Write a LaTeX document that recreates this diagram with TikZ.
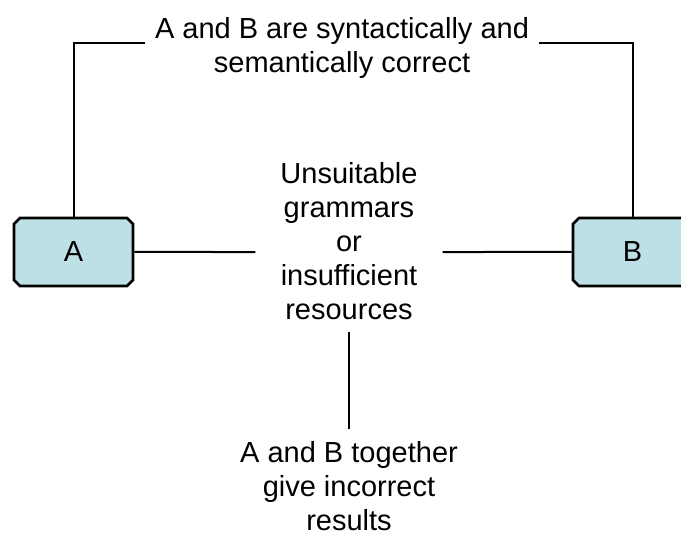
\documentclass[tikz,border=0pt]{standalone}
\usepackage{fontspec}
\setmainfont{Liberation Sans}
\usetikzlibrary{positioning,shapes.misc}
\definecolor{boxfill}{HTML}{BCE0E5}

\begin{document}
\begin{tikzpicture}[
    x=1pt, y=-1pt,
    party/.style={draw=black, line width=2.6pt, fill=boxfill, chamfered rectangle, chamfered rectangle xsep=3pt, chamfered rectangle ysep=3pt, minimum width=119pt, minimum height=68pt, inner sep=0pt, font=\fontsize{29}{34}\selectfont},
    caption/.style={align=center, inner xsep=0pt, inner ysep=12pt, font=\fontsize{29}{34}\selectfont},
    link/.style={line width=2pt, color=black}
]
\useasboundingbox (0,0) rectangle (681,535);
\clip (0,0) rectangle (681,535);

% The two parties
\node[party] (A) at (73.5,252) {A};
\node[party] (B) at (632.5,252) {B};

% Captions
\node[caption, inner xsep=10pt] (T) at (342,48) {A and B are syntactically and\\semantically correct};
\node[caption, minimum width=187pt] (M) at (349,241) {Unsuitable\\grammars\\or\\insufficient\\resources};
\node[caption] (R) at (349,486) {A and B together\\give incorrect\\results};

% Connecting lines
\draw[link] (A.north) |- ([yshift=5pt]T.west);
\draw[link] (B.north) |- ([yshift=5pt]T.east);
\draw[link] (A) -- (A -| M.west);
\draw[link] (B) -- (B -| M.east);
\draw[link] (M) -- (R);

\end{tikzpicture}
\end{document}
